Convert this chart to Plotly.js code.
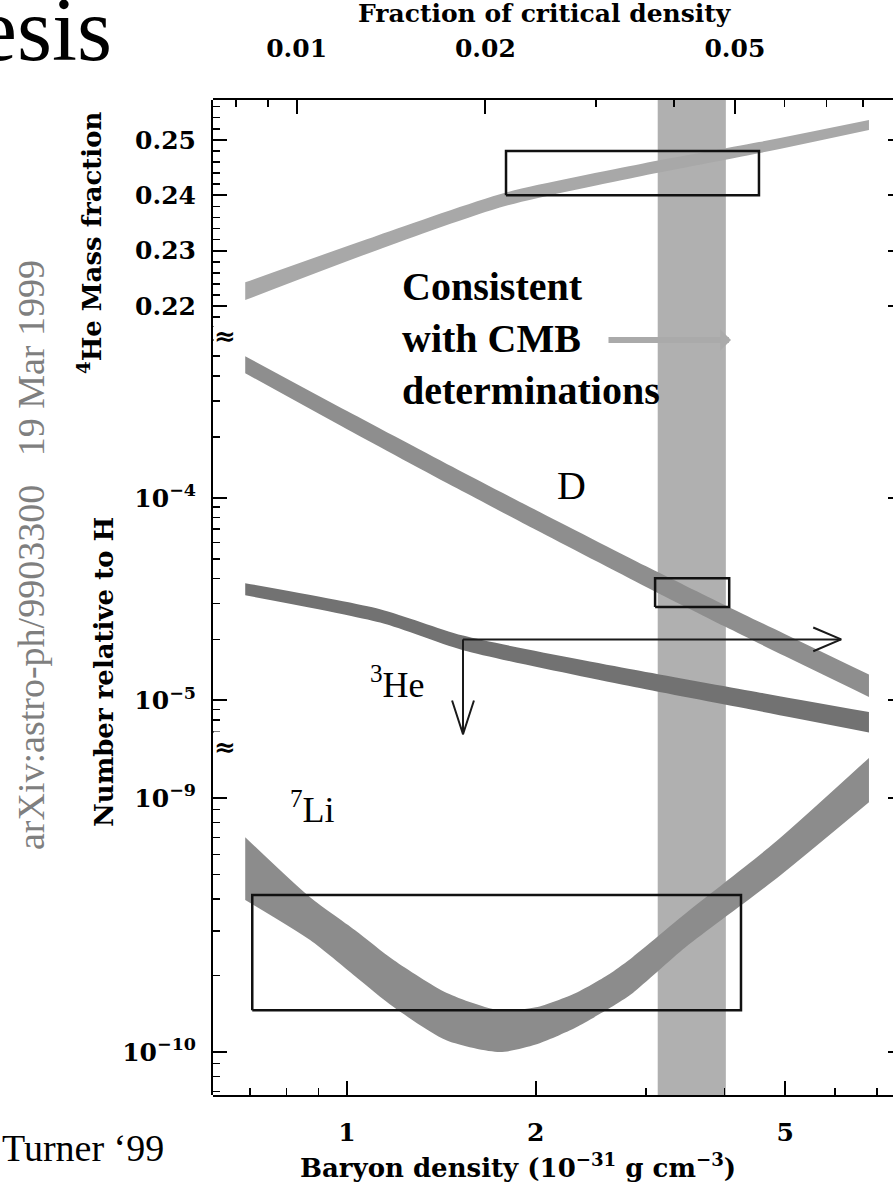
<!DOCTYPE html>
<html><head><meta charset="utf-8">
<script src="https://cdn.plot.ly/plotly-3.0.1.min.js"></script>
<style>html,body{margin:0;padding:0;overflow:hidden;background:#fff}#chart{width:900px;height:1185px}</style>
</head><body><div id="chart"></div>
<script>
// ---------- data (x = baryon density, 1e-31 g cm^-3) ----------
const he4X     = [0.688, 1.116, 1.793, 2.954, 4.54, 6.80];
const he4Upper = [0.2243, 0.2327, 0.2405, 0.2457, 0.2496, 0.2536];
const he4Lower = [0.2211, 0.2301, 0.2381, 0.2435, 0.2476, 0.2518];

const dX     = [0.688, 1.0, 1.5, 2.0, 3.0, 4.0, 5.0, 6.80];
const dUpper = [5.00e-4, 2.68e-4, 1.38e-4, 8.71e-5, 4.59e-5, 2.96e-5, 2.12e-5, 1.34e-5];
const dLower = [4.12e-4, 2.18e-4, 1.11e-4, 6.95e-5, 3.63e-5, 2.32e-5, 1.65e-5, 1.04e-5];

const he3X     = [0.688, 1.129, 1.531, 2.93, 4.5, 6.80];
const he3Upper = [3.79e-5, 2.82e-5, 2.09e-5, 1.40e-5, 1.10e-5, 8.75e-6];
const he3Lower = [3.30e-5, 2.42e-5, 1.77e-5, 1.15e-5, 8.9e-6, 6.95e-6];

const li7X     = [0.688, 0.873, 1.03, 1.188, 1.443, 1.753, 2.0, 2.317, 2.636, 2.857, 3.47, 4.80, 6.80];
const li7Upper = [7.02e-10, 4.07e-10, 3.02e-10, 2.30e-10, 1.71e-10, 1.46e-10, 1.50e-10, 1.71e-10, 2.05e-10, 2.37e-10, 3.52e-10, 6.65e-10, 1.44e-9];
const li7Lower = [3.97e-10, 2.76e-10, 1.99e-10, 1.50e-10, 1.11e-10, 1.00e-10, 1.07e-10, 1.25e-10, 1.50e-10, 1.71e-10, 2.59e-10, 4.75e-10, 9.64e-10];

const he4BoxX = [1.793, 4.54],  he4BoxY = [0.240, 0.248];
const dBoxX   = [3.10, 4.07],   dBoxY   = [2.89e-5, 4.01e-5];
const li7BoxX = [0.706, 4.25],  li7BoxY = [1.46e-10, 4.15e-10];
const cmbX    = [3.13, 4.02];
const he3Limit = 2.0e-5, he3LimitX = [1.531, 6.14], he3DownTo = 6.8e-6;

const bottomTicks = [1, 2, 5], bottomMinor = [0.7, 0.8, 0.9, 3, 4, 6, 7];
const topTicks = [0.01, 0.02, 0.05], topMinor = [0.008, 0.009, 0.03, 0.04, 0.06, 0.07, 0.08];
const rhoPerOmega = 83.1;

// ---------- geometry ----------
const PL = 213, PR = 896, PT = 100, PB = 1095;
const fx = p => (p - PL) / (PR - PL);
const fy = p => (PB - p) / (PB - PT);
const xr = [Math.log10(0.6112), Math.log10(7.51)];

// a band = lower edge line + upper edge line filled to it (smooth edges, straight end cuts)
function band(x, up, lo, yax, color) {
  const ln = {width: 0, shape: 'spline', smoothing: 0.7};
  return [
    {x: x, y: lo, xaxis: 'x', yaxis: yax, mode: 'lines', line: ln, hoverinfo: 'skip'},
    {x: x, y: up, xaxis: 'x', yaxis: yax, mode: 'lines', line: ln, fill: 'tonexty', fillcolor: color, hoverinfo: 'skip'}
  ];
}
function box(bx, by, yax) {
  return {x: [bx[0], bx[1], bx[1], bx[0], bx[0]], y: [by[0], by[0], by[1], by[1], by[0]],
    xaxis: 'x', yaxis: yax, mode: 'lines', line: {color: '#111', width: 2.5}, hoverinfo: 'skip'};
}
const ln = (x, y, yax) => ({x, y, xaxis: 'x', yaxis: yax, mode: 'lines', line: {color: '#1a1a1a', width: 2}, hoverinfo: 'skip'});
const empty = (xa, ya) => ({x: [], y: [], xaxis: xa, yaxis: ya, mode: 'markers', hoverinfo: 'skip'});

const traces = [
  {x: [cmbX[0], cmbX[1], cmbX[1], cmbX[0], cmbX[0]], y: [0, 0, 1, 1, 0], xaxis: 'x', yaxis: 'y', mode: 'lines',
   fill: 'toself', fillcolor: '#b0b0b0', line: {width: 0}, hoverinfo: 'skip'},
  empty('x2', 'y'),
  ...band(li7X, li7Upper, li7Lower, 'y2', '#8c8c8c'),
  ...band(dX, dUpper, dLower, 'y3', '#8e8e8e'),
  ...band(he3X, he3Upper, he3Lower, 'y3', '#727272'),
  ...band(he4X, he4Upper, he4Lower, 'y4', '#a8a8a8'),
  box(li7BoxX, li7BoxY, 'y2'),
  box(dBoxX, dBoxY, 'y3'),
  box(he4BoxX, he4BoxY, 'y4'),
  ln(he3LimitX, [he3Limit, he3Limit], 'y3'),
  ln([he3LimitX[1] / 1.108, he3LimitX[1], he3LimitX[1] / 1.108], [he3Limit * 1.145, he3Limit, he3Limit / 1.145], 'y3'),
  ln([he3LimitX[0], he3LimitX[0]], [he3Limit, he3DownTo], 'y3'),
  ln([he3LimitX[0] / 1.041, he3LimitX[0], he3LimitX[0] * 1.041], [he3DownTo * 1.468, he3DownTo, he3DownTo * 1.468], 'y3'),
  empty('x', 'y5'), empty('x', 'y6'), empty('x', 'y7')
];

const tf = {family: 'DejaVu Serif', size: 25, color: '#000', weight: 'bold'};
const base = {showline: true, linecolor: '#000', linewidth: 2, ticks: 'inside', tickcolor: '#000', tickwidth: 2,
  ticklen: 14, showgrid: false, zeroline: false, tickfont: tf, ticklabelstandoff: 10};
const minor = vals => ({tickmode: 'array', tickvals: vals, ticks: 'inside', ticklen: 7, tickwidth: 1.5, tickcolor: '#000', showgrid: false});
const sup = e => '10<sup>\u2212' + e + '</sup>';

const liR = [-10.169, -8.799], dR = [-5.2304, -3.1225], heR = [0.2175, 0.2572];
const dLi = [0, 0.3497], dD = [0.3497, 0.7789], dHe = [0.7789, 1];
const rightAx = (ov, type, range, vals) => ({overlaying: ov, side: 'right', anchor: 'x', type, range, showline: false,
  ticks: 'inside', tickvals: vals, ticklen: 8, tickwidth: 2, tickcolor: '#000', showticklabels: false, showgrid: false, zeroline: false});
const bold = s => ({family: 'DejaVu Serif', size: s, color: '#000', weight: 'bold'});

const layout = {
  width: 900, height: 1185, margin: {l: PL, r: 900 - PR, t: PT, b: 1185 - PB},
  paper_bgcolor: '#fff', plot_bgcolor: 'rgba(0,0,0,0)', showlegend: false,
  xaxis: Object.assign({}, base, {type: 'log', range: xr, anchor: 'y', tickmode: 'array', tickvals: bottomTicks,
    ticktext: bottomTicks.map(String), minor: minor(bottomMinor), ticklabelstandoff: 14}),
  xaxis2: Object.assign({}, base, {type: 'log', overlaying: 'x', side: 'top', anchor: 'y',
    range: xr.map(v => v - Math.log10(rhoPerOmega)), tickmode: 'array', tickvals: topTicks,
    ticktext: topTicks.map(String), minor: minor(topMinor), ticklabelstandoff: 31}),
  yaxis: {domain: [0, 1], range: [0, 1], visible: false, fixedrange: true},
  yaxis2: Object.assign({}, base, {domain: dLi, anchor: 'x', type: 'log', range: liR, tickmode: 'array',
    tickvals: [1e-10, 1e-9], ticktext: [sup(10), sup(9)],
    minor: minor([7e-11, 8e-11, 9e-11, 2e-10, 3e-10, 4e-10, 5e-10, 6e-10, 7e-10, 8e-10, 9e-10])}),
  yaxis3: Object.assign({}, base, {domain: dD, anchor: 'x', type: 'log', range: dR, tickmode: 'array',
    tickvals: [1e-5, 1e-4], ticktext: [sup(5), sup(4)],
    minor: minor([7e-6, 8e-6, 9e-6, 2e-5, 3e-5, 4e-5, 5e-5, 6e-5, 7e-5, 8e-5, 9e-5, 2e-4, 3e-4, 4e-4, 5e-4, 6e-4, 7e-4])}),
  yaxis4: Object.assign({}, base, {domain: dHe, anchor: 'x', range: heR, tickmode: 'array',
    tickvals: [0.22, 0.23, 0.24, 0.25], ticktext: ['0.22', '0.23', '0.24', '0.25'],
    minor: minor([0.218, 0.222, 0.224, 0.226, 0.228, 0.232, 0.234, 0.236, 0.238, 0.242, 0.244, 0.246, 0.248, 0.252, 0.254, 0.256])}),
  yaxis5: rightAx('y2', 'log', liR, [1e-10, 1e-9]),
  yaxis6: rightAx('y3', 'log', dR, [1e-5, 1e-4]),
  yaxis7: rightAx('y4', 'linear', heR, [0.22, 0.23, 0.24, 0.25]),
  annotations: [
    {xref: 'paper', yref: 'paper', x: fx(545), y: fy(14), text: 'Fraction of critical density', showarrow: false,
     font: bold(25), xanchor: 'center', yanchor: 'middle'},
    {xref: 'paper', yref: 'paper', x: fx(518), y: fy(1166), text: 'Baryon density (10<sup>\u221231</sup> g cm<sup>\u22123</sup>)', showarrow: false,
     font: bold(26), xanchor: 'center', yanchor: 'middle'},
    {xref: 'paper', yref: 'paper', x: fx(90), y: fy(243), text: '<sup>4</sup>He Mass fraction', textangle: -90, showarrow: false,
     font: bold(26), xanchor: 'center', yanchor: 'middle'},
    {xref: 'paper', yref: 'paper', x: fx(104), y: fy(672), text: 'Number relative to H', textangle: -90, showarrow: false,
     font: bold(26), xanchor: 'center', yanchor: 'middle'},
    {xref: 'paper', yref: 'paper', x: fx(31), y: fy(555), text: 'arXiv:astro-ph/9903300\u00A0\u00A0\u00A019 Mar 1999', textangle: -90, showarrow: false,
     font: {family: 'Liberation Serif', size: 38, color: '#7f7f7f'}, xanchor: 'center', yanchor: 'middle'},
    {xref: 'paper', yref: 'paper', x: fx(0), y: fy(1148), text: 'Turner \u201899', showarrow: false,
     font: {family: 'Liberation Serif', size: 38, color: '#000'}, xanchor: 'left', yanchor: 'middle'},
    {xref: 'paper', yref: 'paper', x: fx(-25), y: fy(81), text: 'esis', showarrow: false,
     font: {family: 'Liberation Serif', size: 90, color: '#000'}, xanchor: 'left', yanchor: 'bottom'},
    {xref: 'paper', yref: 'paper', x: fx(400), y: fy(338), text: 'Consistent<br>with CMB<br>determinations', showarrow: false, align: 'left',
     font: {family: 'Liberation Serif', size: 40, color: '#000', weight: 'bold'}, xanchor: 'left', yanchor: 'middle'},
    {xref: 'paper', yref: 'paper', x: fx(731), y: fy(340), ax: -124, ay: 0, text: '', showarrow: true,
     arrowcolor: '#aaaaaa', arrowwidth: 6, arrowhead: 1, arrowsize: 0.6},
    {xref: 'paper', yref: 'paper', x: fx(571), y: fy(485), text: 'D', showarrow: false,
     font: {family: 'Liberation Serif', size: 40, color: '#000'}},
    {xref: 'paper', yref: 'paper', x: fx(368), y: fy(683), text: '<sup>3</sup>He', showarrow: false,
     font: {family: 'Liberation Serif', size: 36, color: '#000'}},
    {xref: 'paper', yref: 'paper', x: fx(288), y: fy(832), text: '<sup>7</sup>Li', showarrow: false,
     font: {family: 'Liberation Serif', size: 36, color: '#000'}},
    {xref: 'paper', yref: 'paper', x: fx(213), y: fy(320), text: '\u2248', showarrow: false, bgcolor: '#fff',
     font: bold(26), borderpad: 0},
    {xref: 'paper', yref: 'paper', x: fx(213), y: fy(747), text: '\u2248', showarrow: false, bgcolor: '#fff',
     font: bold(26), borderpad: 0}
  ]
};

Plotly.newPlot('chart', traces, layout, {displayModeBar: false, staticPlot: true});
</script></body></html>
